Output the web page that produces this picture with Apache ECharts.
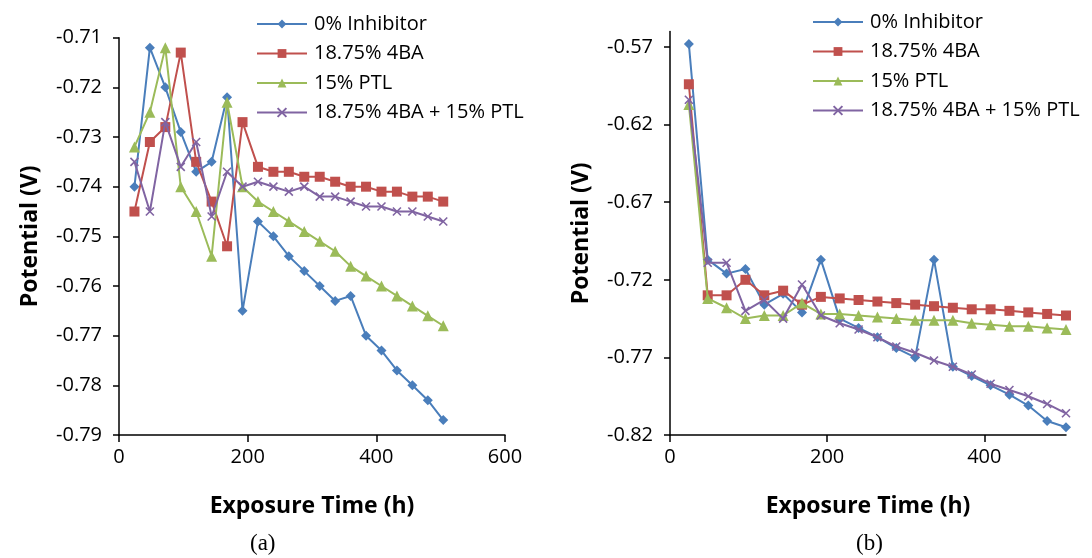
<!DOCTYPE html>
<html>
<head>
<meta charset="utf-8">
<script src="https://cdn.jsdelivr.net/npm/echarts@6.0.0/dist/echarts.min.js"></script>
<style>
  html, body { margin: 0; padding: 0; background: #fff; }
  #chart { width: 1092px; height: 558px; }
</style>
</head>
<body>
<div id="chart"></div>
<script>
// -------------------
// Data
// -------------------
const seriesNames = ["0% Inhibitor", "18.75% 4BA", "15% PTL", "18.75% 4BA + 15% PTL"]
const hoursA = [24, 48, 72, 96, 120, 144, 168, 192, 216, 240, 264, 288, 312, 336, 360, 384, 408, 432, 456, 480, 504]
const hoursB = [24, 48, 72, 96, 120, 144, 168, 192, 216, 240, 264, 288, 312, 336, 360, 384, 408, 432, 456, 480, 504]

// panel (a)
const blankA  = [-0.740, -0.712, -0.720, -0.729, -0.737, -0.735, -0.722, -0.765, -0.747, -0.750, -0.754, -0.757, -0.760, -0.763, -0.762, -0.770, -0.773, -0.777, -0.780, -0.783, -0.787]
const ba4A    = [-0.745, -0.731, -0.728, -0.713, -0.735, -0.743, -0.752, -0.727, -0.736, -0.737, -0.737, -0.738, -0.738, -0.739, -0.740, -0.740, -0.741, -0.741, -0.742, -0.742, -0.743]
const ptlA    = [-0.732, -0.725, -0.712, -0.740, -0.745, -0.754, -0.723, -0.740, -0.743, -0.745, -0.747, -0.749, -0.751, -0.753, -0.756, -0.758, -0.760, -0.762, -0.764, -0.766, -0.768]
const mixA    = [-0.735, -0.745, -0.727, -0.736, -0.731, -0.746, -0.737, -0.740, -0.739, -0.740, -0.741, -0.740, -0.742, -0.742, -0.743, -0.744, -0.744, -0.745, -0.745, -0.746, -0.747]

// panel (b)
const blankB  = [-0.568, -0.707, -0.716, -0.713, -0.736, -0.729, -0.741, -0.707, -0.745, -0.751, -0.757, -0.764, -0.770, -0.707, -0.776, -0.782, -0.788, -0.794, -0.801, -0.811, -0.815]
const ba4B    = [-0.594, -0.730, -0.730, -0.720, -0.730, -0.727, -0.736, -0.731, -0.732, -0.733, -0.734, -0.735, -0.736, -0.737, -0.738, -0.739, -0.739, -0.740, -0.741, -0.742, -0.743]
const ptlB    = [-0.607, -0.732, -0.738, -0.745, -0.743, -0.743, -0.735, -0.742, -0.742, -0.743, -0.744, -0.745, -0.746, -0.746, -0.746, -0.748, -0.749, -0.750, -0.750, -0.751, -0.752]
const mixB    = [-0.604, -0.709, -0.709, -0.740, -0.733, -0.745, -0.723, -0.743, -0.748, -0.752, -0.757, -0.763, -0.767, -0.772, -0.776, -0.781, -0.787, -0.791, -0.795, -0.800, -0.806]

const yTicksA = [-0.79, -0.78, -0.77, -0.76, -0.75, -0.74, -0.73, -0.72, -0.71]
const yTicksB = [-0.82, -0.77, -0.72, -0.67, -0.62, -0.57]
const xTicksA = [0, 200, 400, 600]
const xTicksB = [0, 200, 400]

// -------------------
// Styles
// -------------------
const FONT = "Open Sans"
const colors = ["#4A7EBB", "#C0504D", "#9BBB59", "#8064A2"]
const symbols = ["diamond", "rect", "triangle", "path://M0,0L10,10M10,0L0,10"]
const symbolSizes = [10, 10, 11, 8]

function pair(xs, ys){ return xs.map((x,i)=>[x, ys[i]]) }

function makeSeries(idx, data, gridIdx){
    return {
        name: seriesNames[idx],
        type: "line",
        xAxisIndex: gridIdx,
        yAxisIndex: gridIdx,
        data: data,
        symbol: symbols[idx],
        symbolSize: symbolSizes[idx],
        showAllSymbol: true,
        animation: false,
        lineStyle: { color: colors[idx], width: 2 },
        itemStyle: {
            color: colors[idx],
            borderColor: colors[idx],
            borderWidth: idx === 3 ? 1.6 : 0
        },
        z: 2 + idx
    }
}

function xAxis(gridIdx, max, ticks){
    return {
        type: "value", gridIndex: gridIdx, min: 0, max: max, interval: 200,
        name: "Exposure Time (h)", nameLocation: "middle", nameGap: 60,
        nameTextStyle: { fontFamily: FONT, fontWeight: "bold", fontSize: 23, color: "#000" },
        axisLine: { lineStyle: { color: "#000", width: 1.5 } },
        axisTick: { show: true, length: 7, inside: false, lineStyle: { color: "#000", width: 1.5 }, customValues: ticks },
        axisLabel: { fontFamily: FONT, fontSize: 20, color: "#000", margin: 12, customValues: ticks },
        splitLine: { show: false }
    }
}

function yAxis(gridIdx, min, max, interval, ticks){
    return {
        type: "value", gridIndex: gridIdx, min: min, max: max, interval: interval,
        name: "Potential (V)", nameLocation: "middle", nameGap: 77, nameRotate: 90,
        nameTextStyle: { fontFamily: FONT, fontWeight: "bold", fontSize: 23, color: "#000" },
        axisLine: { show: true, onZero: false, lineStyle: { color: "#000", width: 1.5 } },
        axisTick: { show: true, length: 6, lineStyle: { color: "#000", width: 1.5 }, customValues: ticks },
        axisLabel: { fontFamily: FONT, fontSize: 20, color: "#000", margin: 17, customValues: ticks,
            formatter: v => v.toFixed(2) },
        splitLine: { show: false }
    }
}

function legend(left, top){
    return {
        orient: "vertical", left: left, top: top,
        itemWidth: 50, itemHeight: 11, itemGap: 9.5,
        textStyle: { fontFamily: FONT, fontSize: 20, color: "#000", padding: [0, 0, 0, 2] },
        selectedMode: false,
        data: seriesNames
    }
}

const chart = echarts.init(document.getElementById("chart"), null, { renderer: "canvas" })
chart.setOption({
    backgroundColor: "#fff",
    animation: false,
    grid: [
        { left: 119, right: 587, top: 37.7, bottom: 123 },
        { left: 670, right: 26, top: 31.5, bottom: 123 }
    ],
    xAxis: [ xAxis(0, 600, xTicksA), xAxis(1, 504, xTicksB) ],
    yAxis: [ yAxis(0, -0.79, -0.71, 0.01, yTicksA), yAxis(1, -0.82, -0.56, 0.05, yTicksB) ],
    legend: [ legend(251, 9), legend(807, 7) ],
    series: [
        makeSeries(0, pair(hoursA, blankA), 0),
        makeSeries(1, pair(hoursA, ba4A), 0),
        makeSeries(2, pair(hoursA, ptlA), 0),
        makeSeries(3, pair(hoursA, mixA), 0),
        makeSeries(0, pair(hoursB, blankB), 1),
        makeSeries(1, pair(hoursB, ba4B), 1),
        makeSeries(2, pair(hoursB, ptlB), 1),
        makeSeries(3, pair(hoursB, mixB), 1)
    ],
    graphic: [
        { type: "text", left: 250, top: 532, style: { text: "(a)", font: "23px 'Liberation Serif'", fill: "#000" } },
        { type: "text", left: 856, top: 532, style: { text: "(b)", font: "23px 'Liberation Serif'", fill: "#000" } }
    ]
})
</script>
</body>
</html>
